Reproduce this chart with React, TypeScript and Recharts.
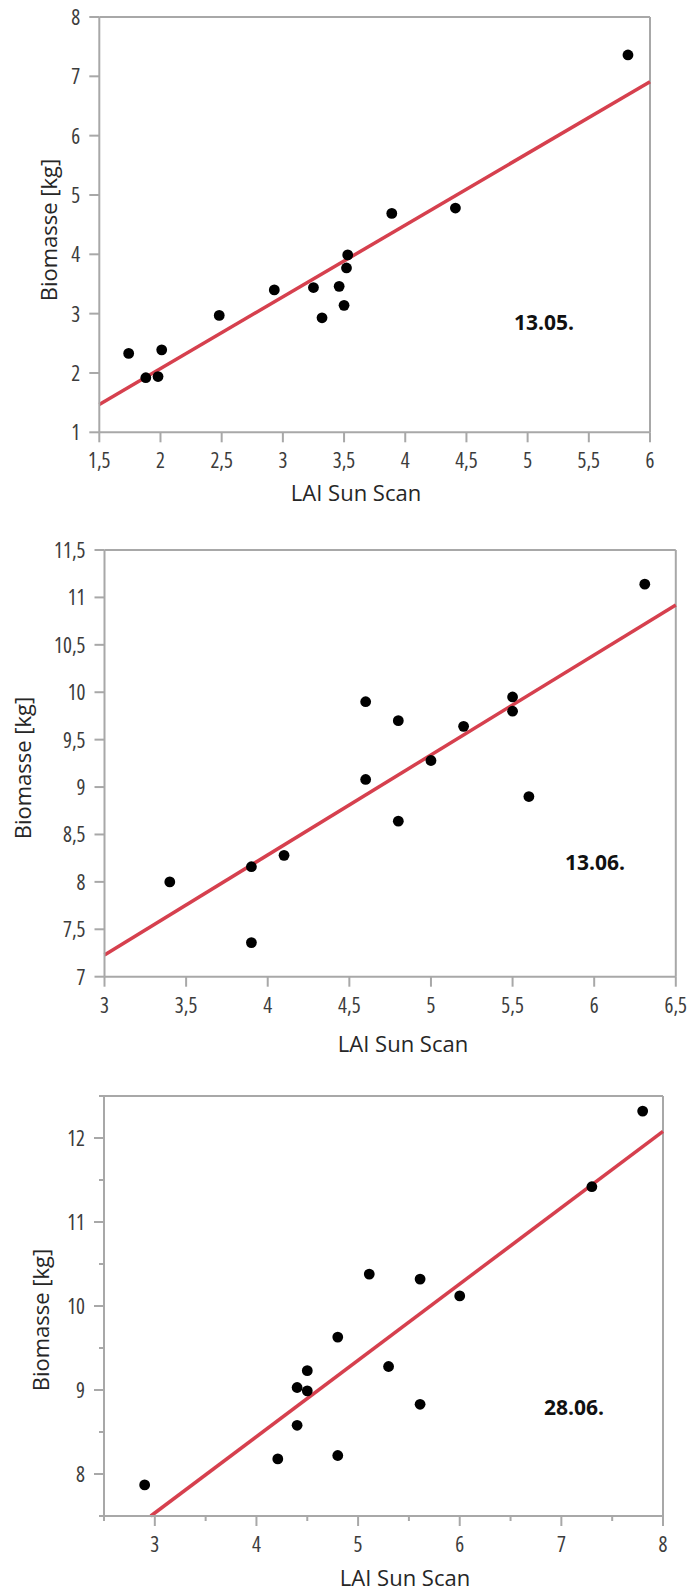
import React from 'react';
import { ScatterChart, Scatter, XAxis, YAxis, ReferenceLine } from 'recharts';

// 13.05.
const lai1 = [1.74, 1.88, 1.98, 2.01, 2.48, 2.93, 3.25, 3.32, 3.46, 3.5, 3.53, 3.52, 3.89, 4.41, 5.82];
const bio1 = [2.33, 1.92, 1.94, 2.39, 2.97, 3.4, 3.44, 2.93, 3.46, 3.14, 3.99, 3.77, 4.69, 4.78, 7.36];
const fit1 = [{ x: 1.5, y: 1.47 }, { x: 6, y: 6.91 }];
const xTicks1 = [1.5, 2, 2.5, 3, 3.5, 4, 4.5, 5, 5.5, 6];
const yTicks1 = [1, 2, 3, 4, 5, 6, 7, 8];

// 13.06.
const lai2 = [3.4, 3.9, 3.9, 4.1, 4.6, 4.6, 4.8, 4.8, 5.0, 5.2, 5.5, 5.5, 5.6, 6.31];
const bio2 = [8.0, 8.16, 7.36, 8.28, 9.9, 9.08, 9.7, 8.64, 9.28, 9.64, 9.95, 9.8, 8.9, 11.14];
const fit2 = [{ x: 3, y: 7.23 }, { x: 6.5, y: 10.92 }];
const xTicks2 = [3, 3.5, 4, 4.5, 5, 5.5, 6, 6.5];
const yTicks2 = [7, 7.5, 8, 8.5, 9, 9.5, 10, 10.5, 11, 11.5];

// 28.06.
const lai3 = [2.9, 4.21, 4.4, 4.4, 4.5, 4.5, 4.8, 4.8, 5.11, 5.3, 5.61, 5.61, 6.0, 7.3, 7.8];
const bio3 = [7.87, 8.18, 8.58, 9.03, 8.99, 9.23, 8.22, 9.63, 10.38, 9.28, 10.32, 8.83, 10.12, 11.42, 12.32];
const fit3 = [{ x: 2.96, y: 7.5 }, { x: 8, y: 12.08 }];
const xTicks3 = [2.5, 3, 3.5, 4, 4.5, 5, 5.5, 6, 6.5, 7, 7.5, 8];
const yTicks3 = [7.5, 8, 8.5, 9, 9.5, 10, 10.5, 11, 11.5, 12, 12.5];

const AXIS = '#a8a8a8';
const TICK = '#3c3c3c';
const FIT = '#d6404e';
const FONT = '"Open Sans", "Noto Sans", sans-serif';

const fmt = (v: number) => String(v).replace('.', ',');
const allMajor = () => true;
const intMajor = (v: number) => Number.isInteger(v);

const tickStyle = { fontStretch: 'semi-condensed' as const };

const makeXTick = (isMajor: (v: number) => boolean) => (props: any) => {
  const { x, y, payload } = props;
  const major = isMajor(payload.value);
  return (
    <g>
      <line x1={x} x2={x} y1={y} y2={y + (major ? 10 : 5)} stroke={AXIS} strokeWidth={2} />
      {major && (
        <text x={x} y={y + 28} textAnchor="middle" dominantBaseline="central" fontSize={21} fill={TICK} fontFamily={FONT} style={tickStyle}>
          {fmt(payload.value)}
        </text>
      )}
    </g>
  );
};

const makeYTick = (isMajor: (v: number) => boolean) => (props: any) => {
  const { x, y, payload } = props;
  const major = isMajor(payload.value);
  return (
    <g>
      <line x1={x} x2={x - (major ? 10 : 5)} y1={y} y2={y} stroke={AXIS} strokeWidth={2} />
      {major && (
        <text x={x - 19} y={y} textAnchor="end" dominantBaseline="central" fontSize={21} fill={TICK} fontFamily={FONT} style={tickStyle}>
          {fmt(payload.value)}
        </text>
      )}
    </g>
  );
};

const Dot = (p: any) => <circle cx={p.cx} cy={p.cy} r={5.4} fill="#000" />;

type Panel = {
  top: number;
  height: number;
  marginTop: number;
  marginRight: number;
  yWidth: number;
  xHeight: number;
  lai: number[];
  bio: number[];
  fit: { x: number; y: number }[];
  xTicks: number[];
  yTicks: number[];
  major: (v: number) => boolean;
  xTitle: [number, number];
  yTitle: [number, number];
  note: string;
  notePos: [number, number];
};

const panels: Panel[] = [
  {
    top: 0, height: 520, marginTop: 17, marginRight: 38, yWidth: 99.3, xHeight: 87.7,
    lai: lai1, bio: bio1, fit: fit1, xTicks: xTicks1, yTicks: yTicks1, major: allMajor,
    xTitle: [356, 492], yTitle: [48, 230], note: '13.05.', notePos: [544, 322],
  },
  {
    top: 520, height: 540, marginTop: 30, marginRight: 12.2, yWidth: 104.5, xHeight: 83.3,
    lai: lai2, bio: bio2, fit: fit2, xTicks: xTicks2, yTicks: yTicks2, major: allMajor,
    xTitle: [403, 523], yTitle: [22, 248], note: '13.06.', notePos: [595, 342],
  },
  {
    top: 1060, height: 531, marginTop: 36, marginRight: 25, yWidth: 104, xHeight: 75,
    lai: lai3, bio: bio3, fit: fit3, xTicks: xTicks3, yTicks: yTicks3, major: intMajor,
    xTitle: [405, 517], yTitle: [40, 260], note: '28.06.', notePos: [574, 347],
  },
];

const PanelChart = ({ p }: { p: Panel }) => {
  const data = p.lai.map((x, i) => ({ x, y: p.bio[i] }));
  const xMin = p.xTicks[0];
  const xMax = p.xTicks[p.xTicks.length - 1];
  const yMin = p.yTicks[0];
  const yMax = p.yTicks[p.yTicks.length - 1];
  return (
    <div style={{ position: 'absolute', left: 0, top: p.top, width: 688, height: p.height }}>
      <ScatterChart
        width={688}
        height={p.height}
        margin={{ top: p.marginTop, right: p.marginRight, left: 0, bottom: 0 }}
      >
        <XAxis
          type="number"
          dataKey="x"
          domain={[xMin, xMax]}
          ticks={p.xTicks}
          interval={0}
          height={p.xHeight}
          tickSize={0}
          tickMargin={0}
          tickLine={false}
          axisLine={{ stroke: AXIS, strokeWidth: 2 }}
          tick={makeXTick(p.major)}
        />
        <YAxis
          type="number"
          dataKey="y"
          domain={[yMin, yMax]}
          ticks={p.yTicks}
          interval={0}
          width={p.yWidth}
          tickSize={0}
          tickMargin={0}
          tickLine={false}
          axisLine={{ stroke: AXIS, strokeWidth: 2 }}
          tick={makeYTick(p.major)}
        />
        <ReferenceLine y={yMax} stroke={AXIS} strokeWidth={2} />
        <ReferenceLine x={xMax} stroke={AXIS} strokeWidth={2} />
        <Scatter data={data} shape={Dot} isAnimationActive={false} />
        <ReferenceLine segment={p.fit} stroke={FIT} strokeWidth={3.5} />
      </ScatterChart>
      <svg width={688} height={p.height} style={{ position: 'absolute', left: 0, top: 0, pointerEvents: 'none' }}>
        <text x={p.xTitle[0]} y={p.xTitle[1]} textAnchor="middle" dominantBaseline="central" fontSize={22} fill="#262626" fontFamily={FONT}>
          LAI Sun Scan
        </text>
        <text
          x={p.yTitle[0]}
          y={p.yTitle[1]}
          textAnchor="middle"
          dominantBaseline="central"
          fontSize={22}
          fill="#262626"
          fontFamily={FONT}
          transform={`rotate(-90 ${p.yTitle[0]} ${p.yTitle[1]})`}
        >
          Biomasse [kg]
        </text>
        <text x={p.notePos[0]} y={p.notePos[1]} textAnchor="middle" dominantBaseline="central" fontSize={21} fontWeight={700} fill="#111" fontFamily={FONT}>
          {p.note}
        </text>
      </svg>
    </div>
  );
};

export default function App() {
  return (
    <div style={{ position: 'absolute', left: 0, top: 0, width: 688, height: 1591, background: '#fff' }}>
      {panels.map((p) => (
        <PanelChart key={p.note} p={p} />
      ))}
    </div>
  );
}
